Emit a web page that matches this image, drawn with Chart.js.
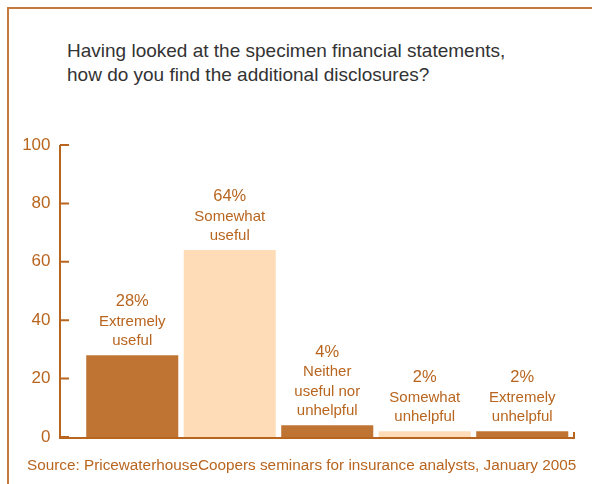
<!DOCTYPE html>
<html>
<head>
<meta charset="utf-8">
<script src="https://cdn.jsdelivr.net/npm/chart.js@4/dist/chart.umd.min.js"></script>
<style>
  html, body { margin: 0; padding: 0; background: #fff; }
  #wrap { position: relative; width: 592px; height: 484px; overflow: hidden; }
  #frame {
    position: absolute; left: 7px; top: 7px; right: -10px; bottom: -10px;
    border-top: 2px solid #c57a3c; border-left: 2px solid #c57a3c;
  }
  #title {
    position: absolute; left: 67px; top: 39px;
    font: 19px "Liberation Sans", Arial, sans-serif; line-height: 24px; color: #333;
  }
  #source {
    position: absolute; left: 27px; top: 456px;
    font: 15.3px "Liberation Sans", Arial, sans-serif; color: #b8651f; white-space: nowrap;
  }
  canvas { position: absolute; left: 0; top: 0; }
</style>
</head>
<body>
<div id="wrap">
  <div id="frame"></div>
  <div id="title">Having looked at the specimen financial statements,<br>how do you find the additional disclosures?</div>
  <canvas id="chart" width="592" height="484"></canvas>
  <div id="source">Source: PricewaterhouseCoopers seminars for insurance analysts, January 2005</div>
</div>
<script>
const answers = [
  ["Extremely", "useful"],
  ["Somewhat", "useful"],
  ["Neither", "useful nor", "unhelpful"],
  ["Somewhat", "unhelpful"],
  ["Extremely", "unhelpful"],
];
const shares = [28, 64, 4, 2, 2];
const yTicks = [0, 20, 40, 60, 80, 100];

const DARK = "#c07434";
const LIGHT = "#fddcb7";
const BROWN = "#b8651f";
const FONT = '"Liberation Sans", Arial, sans-serif';

// axis lines sit a little outside the bars, so they are drawn by hand
const axisLines = {
  id: "axisLines",
  afterDatasetsDraw(chart) {
    const { ctx, chartArea, scales } = chart;
    const y = scales.y;
    const x0 = chartArea.left - 23.5;
    const x1 = chartArea.right + 3;
    const top = y.getPixelForValue(100);
    const zero = y.getPixelForValue(0);
    ctx.save();
    ctx.strokeStyle = BROWN;
    ctx.lineWidth = 2;
    ctx.beginPath();
    ctx.moveTo(x0, top);
    ctx.lineTo(x0, zero + 1);
    ctx.lineTo(x1, zero + 1);
    ctx.lineTo(x1, zero - 5);
    yTicks.forEach((t) => {
      const py = y.getPixelForValue(t);
      ctx.moveTo(x0, py);
      ctx.lineTo(x0 + 9, py);
    });
    ctx.stroke();
    ctx.restore();
  },
};

// percentage and answer text stacked above each bar
const barLabels = {
  id: "barLabels",
  afterDatasetsDraw(chart) {
    const { ctx } = chart;
    const bars = chart.getDatasetMeta(0).data;
    ctx.save();
    ctx.fillStyle = BROWN;
    ctx.textAlign = "center";
    ctx.textBaseline = "alphabetic";
    bars.forEach((bar, i) => {
      const lines = [shares[i] + "%", ...answers[i]];
      let base = bar.y - 10;
      for (let k = lines.length - 1; k >= 0; k--) {
        ctx.font = (k === 0 ? "16.5px " : "15px ") + FONT;
        ctx.fillText(lines[k], bar.x, base);
        base -= 19.5;
      }
    });
    ctx.restore();
  },
};

new Chart(document.getElementById("chart"), {
  type: "bar",
  data: {
    labels: answers,
    datasets: [{
      data: shares,
      backgroundColor: shares.map((_, i) => (i % 2 ? LIGHT : DARK)),
      borderWidth: 0,
      barPercentage: 0.944,
      categoryPercentage: 1,
    }],
  },
  options: {
    responsive: false,
    animation: false,
    layout: { padding: { left: 20, right: 21, top: 145, bottom: 47 } },
    plugins: { legend: { display: false }, tooltip: { enabled: false } },
    scales: {
      x: { display: false },
      y: {
        min: 0,
        max: 100,
        afterFit: (scale) => { scale.width = 63.5; },
        afterBuildTicks: (scale) => { scale.ticks = yTicks.map((v) => ({ value: v })); },
        grid: { display: false, drawTicks: false },
        border: { display: false },
        ticks: {
          padding: 33,
          color: BROWN,
          font: { family: FONT, size: 17 },
        },
      },
    },
  },
  plugins: [axisLines, barLabels],
});
</script>
</body>
</html>
